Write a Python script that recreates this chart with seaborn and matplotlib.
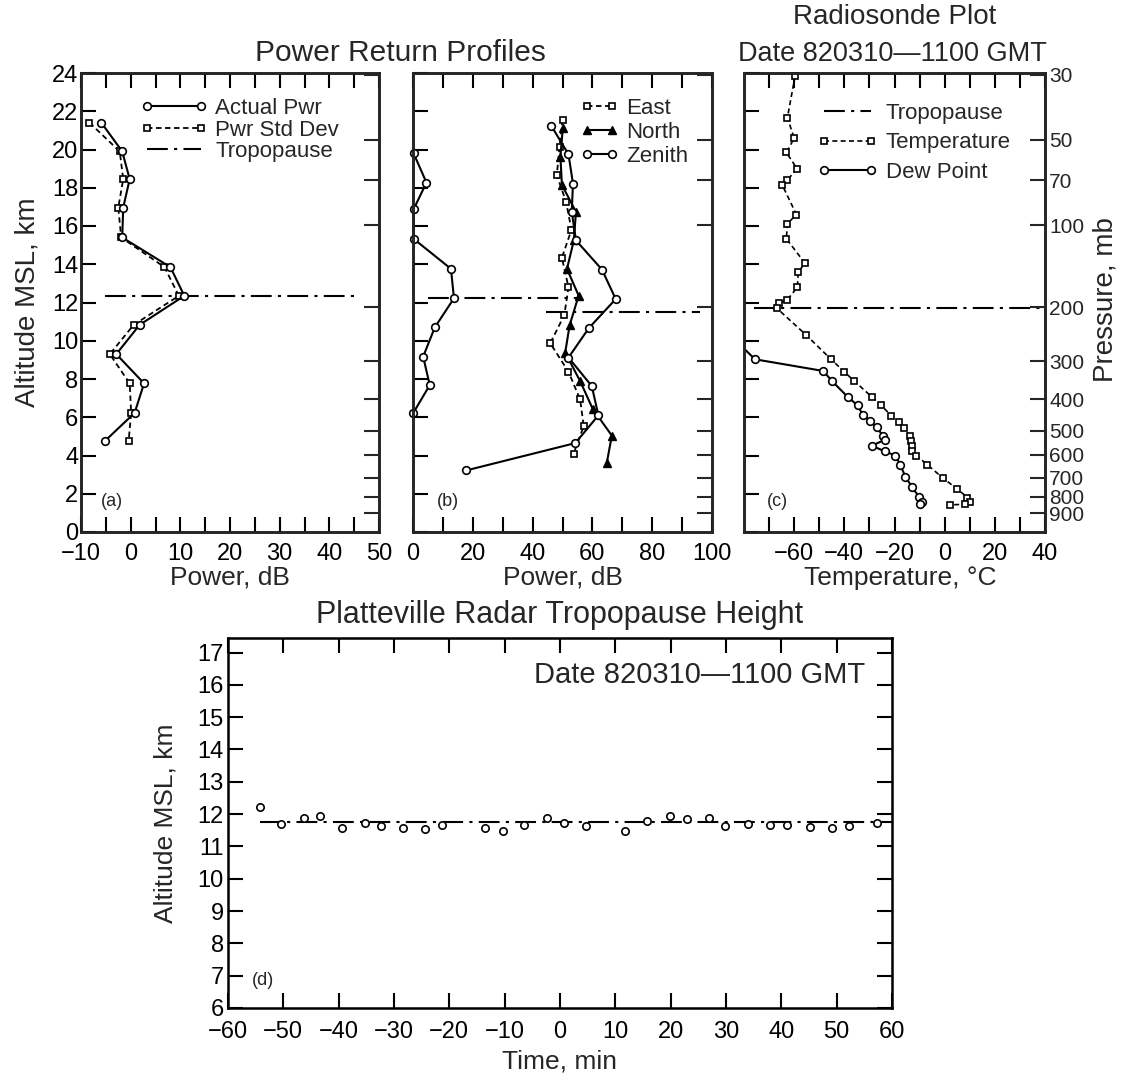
import numpy as np
import seaborn as sns
import matplotlib.pyplot as plt
from matplotlib.lines import Line2D

# ---- (a) power return, km / dB
a_alt = [21.4, 19.9, 18.45, 16.96, 15.4, 13.85, 12.35, 10.83, 9.3, 7.77, 6.23, 4.78]
a_actual_pwr = [-5.9, -1.7, -0.2, -1.5, -1.7, 8.0, 10.8, 1.8, -2.9, 2.7, 0.8, -5.1]
a_std_dev = [-8.3, -2.2, -1.5, -2.5, -1.9, 6.8, 9.7, 0.6, -4.2, -0.2, 0.1, -0.4]
a_trop_x = [-5.2, 46.0]
a_trop_alt = [12.35, 12.35]

# ---- (b) east / north / zenith beams
east_alt = [21.55, 20.15, 18.66, 17.26, 15.8, 14.34, 12.8, 11.34, 9.87, 8.38, 6.93, 5.53, 4.1]
east_pwr = [50.0, 49.0, 48.1, 51.2, 53.0, 49.8, 52.0, 50.6, 45.9, 52.0, 55.9, 57.1, 53.7]
north_alt = [21.1, 19.63, 18.15, 16.74, 15.25, 13.76, 12.36, 10.82, 9.38, 7.89, 6.44, 5.04, 3.6]
north_pwr = [50.1, 49.3, 49.8, 54.5, 53.8, 51.5, 55.4, 52.4, 50.9, 55.9, 60.1, 66.5, 64.8]
zenith_alt = [21.25, 19.75, 18.22, 16.75, 15.25, 13.72, 12.18, 10.66, 9.12, 7.63, 6.1, 4.65, 3.22]
zenith_pwr = [46.2, 52.0, 53.5, 53.1, 54.5, 63.2, 67.8, 58.8, 52.0, 59.8, 62.0, 54.3, 17.8]
low_alt = [19.8, 18.27, 16.87, 15.33, 13.76, 12.22, 10.7, 9.17, 7.68, 6.2]
low_pwr = [0.2, 4.5, 0.2, 0.2, 12.7, 13.7, 7.3, 3.4, 5.6, 0.0]
b_trop1_x = [5.0, 54.8]
b_trop1_alt = [12.22, 12.22]
b_trop2_x = [44.6, 96.0]
b_trop2_alt = [11.52, 11.52]

# ---- (c) radiosonde
temp_alt = [23.86, 21.67, 20.59, 19.85, 19.0, 18.4, 18.13, 16.6, 16.12, 15.33, 14.06,
            13.58, 12.8, 12.15, 11.96, 11.7, 10.31, 9.03, 8.37, 7.89, 7.07, 6.62, 6.09,
            5.74, 5.44, 5.04, 4.74, 4.48, 4.21, 4.0, 3.52, 2.82, 2.26, 1.8, 1.56, 1.45, 1.42]
temp_c = [-59.6, -62.7, -60.0, -63.1, -58.9, -62.7, -64.7, -59.1, -62.7, -63.1, -55.7,
          -58.4, -58.7, -62.7, -66.0, -66.9, -55.3, -45.3, -40.0, -36.0, -29.1, -25.3, -21.3,
          -18.3, -16.3, -14.0, -13.3, -12.9, -12.9, -11.3, -6.9, -0.7, 4.9, 9.1, 10.0, 8.3, 2.3]
dew_alt = [10.1, 9.03, 8.42, 7.89, 7.07, 6.62, 6.14, 5.79, 5.48, 5.04, 4.83, 4.51, 4.21,
           4.0, 3.52, 2.9, 2.33, 1.85, 1.59, 1.45]
dew_c = [-84.0, -75.6, -48.4, -44.9, -38.7, -34.7, -32.7, -29.7, -27.1, -24.7, -23.7, -29.1,
         -23.7, -19.7, -17.7, -15.7, -12.9, -10.3, -8.9, -10.0]
c_trop_x = [-76.0, 38.0]
c_trop_alt = [11.7, 11.7]

# pressure levels (mb) and the altitude they sit at on the right axis
press_mb = [30, 50, 70, 100, 200, 300, 400, 500, 600, 700, 800, 900]
press_alt = [23.9, 20.5, 18.4, 16.03, 11.76, 8.94, 6.93, 5.3, 4.04, 2.83, 1.85, 0.98]

# ---- (d) tropopause height vs time
d_time = [-54.3, -50.5, -46.2, -43.3, -39.4, -35.3, -32.3, -28.3, -24.4, -21.4, -13.5,
          -10.3, -6.5, -2.4, 0.8, 4.7, 11.7, 15.8, 19.9, 22.9, 26.9, 29.9, 34.0, 38.0,
          41.0, 45.2, 49.1, 52.3, 57.2]
d_alt = [12.21, 11.70, 11.88, 11.95, 11.58, 11.72, 11.63, 11.58, 11.54, 11.65, 11.58,
         11.49, 11.65, 11.87, 11.73, 11.62, 11.49, 11.80, 11.95, 11.85, 11.87, 11.62,
         11.68, 11.65, 11.67, 11.60, 11.58, 11.62, 11.72]
d_trop_t = [-54.3, 60.0]
d_trop_alt = [11.75, 11.75]

sns.set_theme(style="ticks")
plt.rcParams['font.family'] = ['Liberation Sans', 'DejaVu Sans']

W, H = 1127, 1083
fig = plt.figure(figsize=(W / 100, H / 100), dpi=100)


def rect(l, t, r, b):
    return [l / W, 1 - b / H, (r - l) / W, (b - t) / H]


ax_a = fig.add_axes(rect(81, 73, 379, 532))
ax_b = fig.add_axes(rect(413, 73, 712, 532))
ax_c = fig.add_axes(rect(744, 73, 1045, 532))
ax_d = fig.add_axes(rect(228, 638, 892, 1008))

TROP = (0, (10, 3, 1.5, 3))
DASH = (0, (3, 2))
TICK_FS = 17
circ = dict(marker='o', markersize=5.5, markerfacecolor='white', markeredgecolor='black',
            markeredgewidth=1.2)
sq = dict(marker='s', markersize=5, markerfacecolor='white', markeredgecolor='black',
          markeredgewidth=1.2)
tri = dict(marker='^', markersize=6, markerfacecolor='black', markeredgecolor='black',
           markeredgewidth=1.0)


def prof(ax, x, y, ls='-', lw=1.5, **kw):
    sns.lineplot(x=x, y=y, ax=ax, sort=False, estimator=None, color='black',
                 lw=lw, linestyle=ls, clip_on=False, **kw)


def style(ax):
    for s in ax.spines.values():
        s.set_linewidth(1.8)
        s.set_color('black')
    ax.tick_params(which='both', direction='in', top=True, right=False, length=11,
                   width=1.5, labelsize=TICK_FS, colors='black')
    ax.set_xlabel('')
    ax.set_ylabel('')


def pressure_axis(ax, labels):
    tw = ax.twinx()
    tw.set_ylim(0, 24)
    tw.set_yticks(press_alt)
    tw.set_yticklabels([str(p) for p in press_mb] if labels else [])
    tw.tick_params(direction='in', length=11, width=1.5, labelsize=15, pad=3)
    for s in tw.spines.values():
        s.set_linewidth(1.8)
    tw.grid(False)


# ---------- (a)
prof(ax_a, a_trop_x, a_trop_alt, ls=TROP, lw=1.5)
prof(ax_a, a_std_dev, a_alt, ls=DASH, lw=1.3, **sq)
prof(ax_a, a_actual_pwr, a_alt, **circ)
ax_a.set_xlim(-10, 50)
ax_a.set_ylim(0, 24)
style(ax_a)
ax_a.set_xticks(np.arange(-10, 51, 10))
ax_a.set_xticks(np.arange(-5, 50, 10), minor=True)
ax_a.set_yticks(np.arange(0, 25, 2))
ax_a.tick_params(axis='y', pad=2)
ax_a.tick_params(axis='x', pad=8)
pressure_axis(ax_a, False)
h_a = [Line2D([], [], color='black', lw=1.5, **circ),
       Line2D([], [], color='black', lw=1.3, ls=DASH, **sq),
       Line2D([], [], color='black', lw=1.5, ls=TROP)]
ax_a.legend(h_a, ['Actual Pwr', 'Pwr Std Dev', 'Tropopause'], numpoints=2, frameon=False,
            loc='upper left', bbox_to_anchor=(0.20, 0.945), fontsize=16, handlelength=3.0,
            handletextpad=0.35, labelspacing=0.02, borderpad=0, borderaxespad=0)
ax_a.text(-3.8, 1.6, '(a)', fontsize=13, ha='center', va='center')

# ---------- (b)
prof(ax_b, b_trop1_x, b_trop1_alt, ls=TROP)
prof(ax_b, b_trop2_x, b_trop2_alt, ls=TROP)
prof(ax_b, low_pwr, low_alt, **circ)
prof(ax_b, east_pwr, east_alt, ls=DASH, lw=1.3, **sq)
prof(ax_b, north_pwr, north_alt, **tri)
prof(ax_b, zenith_pwr, zenith_alt, **circ)
ax_b.set_xlim(0, 100)
ax_b.set_ylim(0, 24)
style(ax_b)
ax_b.set_xticks(np.arange(0, 101, 20))
ax_b.set_xticks(np.arange(10, 100, 20), minor=True)
ax_b.set_yticks(np.arange(0, 25, 2))
ax_b.tick_params(axis='y', labelleft=False)
ax_b.tick_params(axis='x', pad=8)
pressure_axis(ax_b, False)
h_b = [Line2D([], [], color='black', lw=1.3, ls=DASH, **sq),
       Line2D([], [], color='black', lw=1.5, **tri),
       Line2D([], [], color='black', lw=1.5, **circ)]
ax_b.legend(h_b, ['East', 'North', 'Zenith'], numpoints=2, frameon=False,
            loc='upper left', bbox_to_anchor=(0.56, 0.946), fontsize=16, handlelength=1.7,
            handletextpad=0.35, labelspacing=0.14, borderpad=0, borderaxespad=0)
ax_b.text(11.7, 1.6, '(b)', fontsize=13, ha='center', va='center')

# ---------- (c)
prof(ax_c, c_trop_x, c_trop_alt, ls=TROP)
prof(ax_c, temp_c, temp_alt, ls=DASH, lw=1.2, **sq)
ax_c.set_xlim(-80, 40)
ax_c.set_ylim(0, 24)
prof(ax_c, dew_c, dew_alt, lw=1.5, **circ)
for ln in ax_c.lines[-1:]:
    ln.set_clip_on(True)
style(ax_c)
ax_c.set_xticks(np.arange(-60, 41, 20))
ax_c.set_xticks(np.arange(-70, 40, 20), minor=True)
ax_c.set_yticks(np.arange(0, 25, 2))
ax_c.tick_params(axis='y', labelleft=False)
ax_c.tick_params(axis='x', pad=8)
pressure_axis(ax_c, True)
h_c = [Line2D([], [], color='black', lw=1.5, ls=TROP),
       Line2D([], [], color='black', lw=1.2, ls=DASH, **sq),
       Line2D([], [], color='black', lw=1.5, **circ)]
ax_c.legend(h_c, ['Tropopause', 'Temperature', 'Dew Point'], numpoints=2, frameon=False,
            loc='upper left', bbox_to_anchor=(0.245, 0.935), fontsize=16, handlelength=2.7,
            handletextpad=0.35, labelspacing=0.38, borderpad=0, borderaxespad=0)
ax_c.text(-66.6, 1.6, '(c)', fontsize=13, ha='center', va='center')

# ---------- (d)
sns.lineplot(x=d_trop_t, y=d_trop_alt, ax=ax_d, sort=False, estimator=None,
             color='black', lw=1.5, linestyle=TROP)
sns.scatterplot(x=d_time, y=d_alt, ax=ax_d, marker='o', s=28, color='white',
                edgecolor='black', linewidth=1.2, zorder=3)
ax_d.set_xlim(-60, 60)
ax_d.set_ylim(6, 17.45)
style(ax_d)
ax_d.tick_params(which='both', right=True)
ax_d.set_xticks(np.arange(-60, 61, 10))
ax_d.set_yticks(np.arange(6, 18, 1))
ax_d.tick_params(axis='y', pad=3)
ax_d.tick_params(axis='x', pad=9)
ax_d.text(55.2, 16.31, 'Date 820310\u20141100 GMT', fontsize=21, ha='right', va='center')
ax_d.text(-53.6, 6.86, '(d)', fontsize=13, ha='center', va='center')

# ---------- titles and axis labels
fs = 19
fig.text(400 / W, 1 - 53 / H, 'Power Return Profiles', ha='center', va='center', fontsize=21.5)
fig.text(895 / W, 1 - 17 / H, 'Radiosonde Plot', ha='center', va='center', fontsize=20)
fig.text(892 / W, 1 - 54 / H, 'Date 820310\u20141100 GMT', ha='center', va='center', fontsize=19.5)
fig.text(560 / W, 1 - 615 / H, 'Platteville Radar Tropopause Height', ha='center', va='center',
         fontsize=22)
fig.text(230 / W, 1 - 578 / H, 'Power, dB', ha='center', va='center', fontsize=fs)
fig.text(563 / W, 1 - 578 / H, 'Power, dB', ha='center', va='center', fontsize=fs)
fig.text(900 / W, 1 - 578 / H, 'Temperature, \u00b0C', ha='center', va='center', fontsize=fs)
fig.text(560 / W, 1 - 1062 / H, 'Time, min', ha='center', va='center', fontsize=fs)
fig.text(28 / W, 1 - 302 / H, 'Altitude MSL, km', rotation=90, ha='center', va='center',
         fontsize=20)
fig.text(1105 / W, 1 - 300 / H, 'Pressure, mb', rotation=90, ha='center', va='center',
         fontsize=20)
fig.text(166 / W, 1 - 823 / H, 'Altitude MSL, km', rotation=90, ha='center', va='center',
         fontsize=fs)

fig.savefig('out.png', dpi=100)
